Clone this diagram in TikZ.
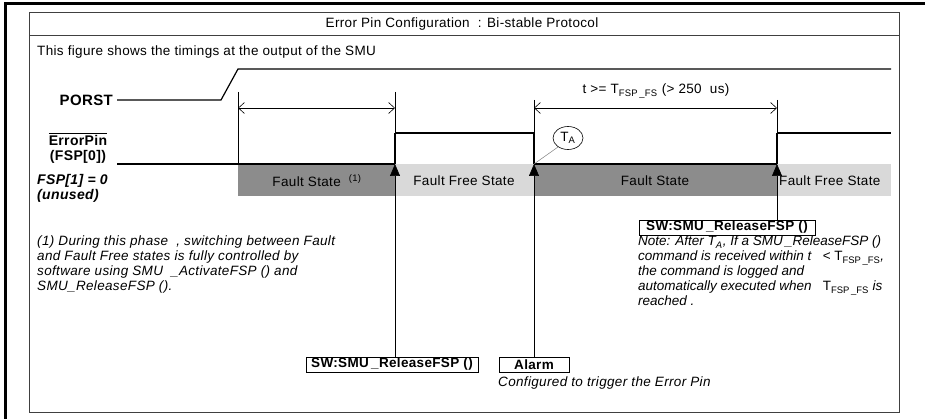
\documentclass[tikz,border=0pt]{standalone}
\usepackage{fontspec}
\setmainfont[LetterSpace=2.5]{Liberation Sans}
\newfontfamily\notefont{Liberation Sans}
\usepackage{tikz}
\usetikzlibrary{shapes.geometric, arrows.meta, positioning}

\definecolor{faultgray}{RGB}{140,140,140}
\definecolor{freegray}{RGB}{217,217,217}
\newcommand{\tfsp}{T\textsubscript{FSP\,\_FS}}

\begin{document}
\begin{tikzpicture}[
        x=1pt, y=-1pt,
        font=\fontsize{13.5}{15}\selectfont,
        sig/.style={font=\fontsize{14}{15}\selectfont\bfseries, inner sep=0pt},
        wave/.style={line width=1.2pt},
        riseline/.style={line width=2pt},
        trigarrow/.style={line width=0.6pt, -{Triangle[length=12pt,width=10pt]}},
        dim/.style={line width=0.6pt, {Straight Barb[length=6pt,width=11pt]}-{Straight Barb[length=6pt,width=11pt]}},
        swbox/.style={rectangle, draw=black, line width=0.8pt, inner sep=0pt, minimum height=15pt, font=\fontsize{13.5}{15}\selectfont\bfseries},
        note/.style={align=left, inner sep=0pt, font=\fontsize{13.5}{15}\selectfont\itshape},
        state/.style={inner sep=0pt}
    ]
    \useasboundingbox (0,0) rectangle (925,419);

    % Frame
    \draw[line width=3pt] (5,419) -- (5,4) -- (925,4);
    \draw[black!75, line width=1pt] (29,13) rectangle (899,412);
    \draw[black!75, line width=1pt] (29,36) -- (899,36);
    \node (title) at (462,24) {Error Pin Configuration~~: Bi-stable Protocol};
    \node[state, anchor=west] (intro) at (37,52) {This figure shows the timings at the output of the SMU};

    % Gray bands
    \fill[faultgray] (238,164) rectangle (395,196);
    \fill[freegray] (395,164) rectangle (534,196);
    \fill[faultgray] (534,164) rectangle (777,196);
    \fill[freegray] (777,164) rectangle (891,196);
    \node[state] (fs1) at (317,181) {Fault State~~\textsuperscript{(1)}};
    \node[state] (ffs1) at (464,181) {Fault Free State};
    \node[state] (fs2) at (655,181) {Fault State};
    \node[state, anchor=west] (ffs2) at (779,181) {Fault Free State};

    % Signal names
    \node[sig, anchor=east, font=\fontsize{15}{15}\selectfont\bfseries] (porst) at (113,100) {PORST};
    \node[sig, align=center] (errpin) at (78,148) {$\overline{\hbox{ErrorPin}}$\\(FSP[0])};
    \node[sig, anchor=north west, align=left, font=\fontsize{14}{15}\selectfont\bfseries\itshape] (fsp) at (37,174) {FSP[1] = 0\\(unused)};

    % Waveforms
    \draw[wave] (117,100) -- (221,100) -- (238,69) -- (891,69);
    \draw[wave] (117,164) -- (395,164);
    \draw[wave] (395,133) -- (534,133);
    \draw[wave] (534,164) -- (777,164);
    \draw[wave] (777,133) -- (891,133);
    \draw[riseline] (395,164) -- (395,133);
    \draw[riseline] (534,133) -- (534,164);
    \draw[riseline] (777,164) -- (777,133);

    % Edges and extension lines
    \coordinate (relA) at (395,164);
    \coordinate (alm) at (534,164);
    \coordinate (relB) at (777,164);
    \coordinate (topS) at (238,92);
    \coordinate (topA) at (395,92);
    \coordinate (topM) at (534,100);
    \coordinate (topB) at (777,100);
    \coordinate (endS) at (238,164);
    \draw[line width=0.6pt] (topS) -- (endS);
    \draw[line width=0.6pt] (topA) -- (relA);
    \draw[line width=0.6pt] (topM) -- (alm);
    \draw[line width=0.6pt] (topB) -- (relB);

    % Timing arrows
    \coordinate (dimS) at (238,108);
    \coordinate (dimA) at (395,108);
    \coordinate (dimM) at (534,108);
    \coordinate (dimB) at (777,108);
    \draw[dim] (dimS) -- (dimA);
    \draw[dim] (dimM) -- (dimB);
    \node[state] (tfs) at (656,91) {t >= \tfsp\ (> 250~~us)};

    % T_A marker
    \node[ellipse, draw, line width=0.6pt, minimum width=30pt, minimum height=23pt, inner sep=0pt] (ta) at (568,138) {T\textsubscript{A}};
    \draw[gray, line width=0.5pt] (alm) -- (ta.222);

    % Software and alarm boxes
    \node[swbox, minimum width=172pt] (relboxA) at (392,364.5) {SW:SMU\,\_ReleaseFSP ()};
    \node[swbox, minimum width=70pt] (alarm) at (534,364.5) {Alarm};
    \node[swbox, minimum width=176pt] (relboxB) at (727,227.5) {SW:SMU\,\_ReleaseFSP ()};
    \draw[trigarrow] (relboxA.north -| relA) -- (relA);
    \draw[trigarrow] (alarm.north) -- (alm);
    \draw[trigarrow] (relboxB.north -| relB) -- (relB);

    % Notes
    \node[note, anchor=north west] (note1) at (37,236) {(1) During this phase~~, switching between Fault\\and Fault Free states is fully controlled by\\software using SMU~~\_ActivateFSP () and\\SMU\_ReleaseFSP ().};
    \node[note, anchor=north west, font=\fontsize{13.5}{15}\notefont\itshape] (noteB) at (638,236) {Note: After \textit{T}\textsubscript{A}, If a SMU\,\_ReleaseFSP ()\\command is received within t~~~{\upshape < \tfsp},\\the command is logged and\\automatically executed when~~~{\upshape\tfsp} is\\reached .};
    \node[note, anchor=west] (almnote) at (498,383) {Configured to trigger the Error Pin};

\end{tikzpicture}
\end{document}
